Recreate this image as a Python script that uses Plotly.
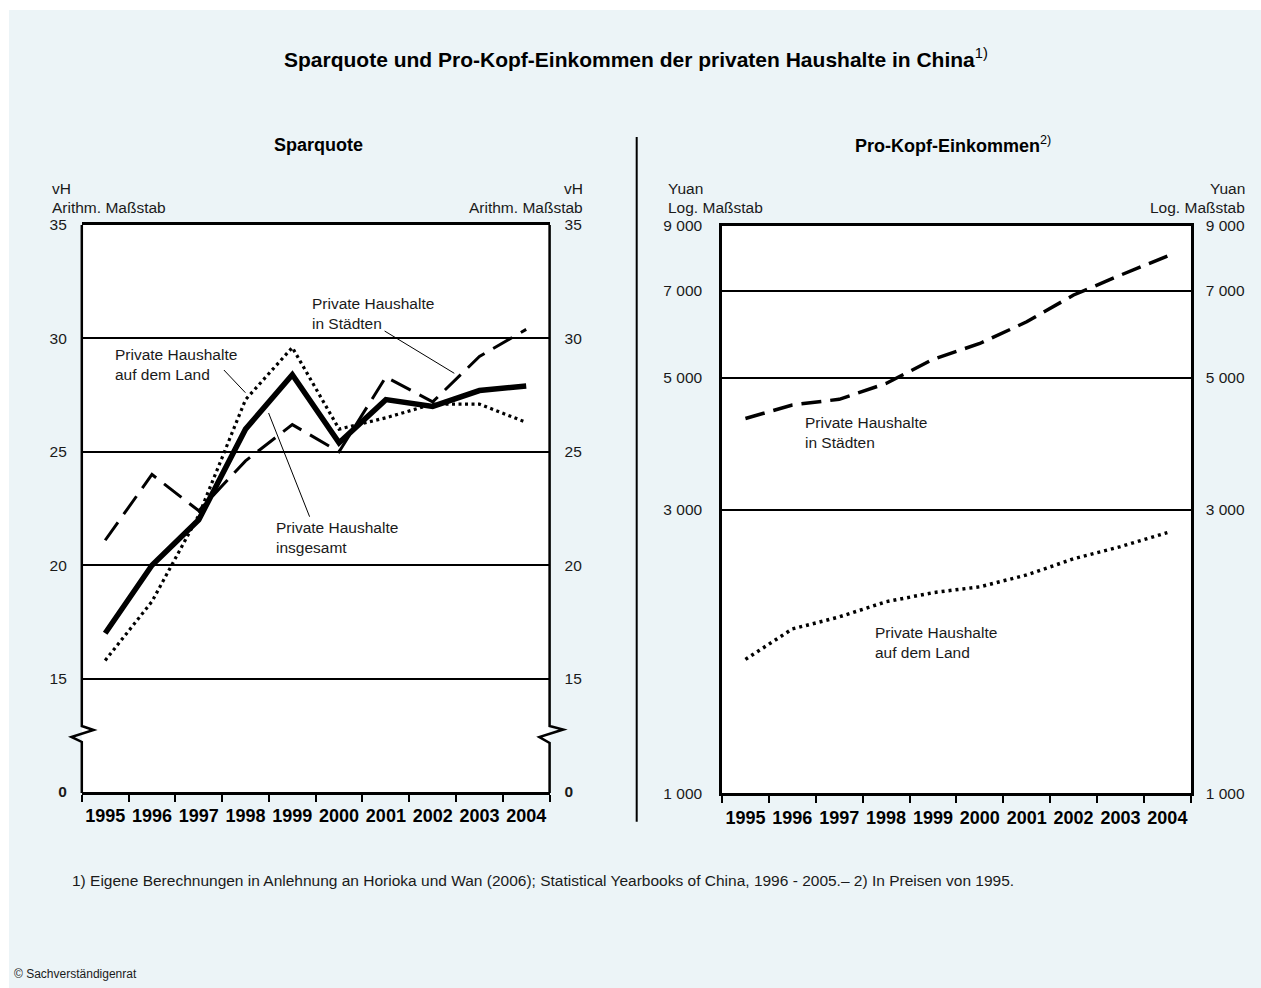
import plotly.graph_objects as go

W, H = 1261, 988

# ---------------- data ----------------
years = ["1995", "1996", "1997", "1998", "1999", "2000", "2001", "2002", "2003", "2004"]

# Sparquote (vH)
sq_total = [17.0, 20.0, 22.0, 26.0, 28.4, 25.4, 27.3, 27.0, 27.7, 27.9]
sq_urban = [21.1, 24.0, 22.4, 24.6, 26.2, 25.0, 28.3, 27.2, 29.2, 30.4]
sq_rural = [15.8, 18.4, 22.2, 27.3, 29.6, 26.0, 26.5, 27.1, 27.1, 26.3]

# Pro-Kopf-Einkommen (Yuan, in Preisen von 1995)
inc_urban = [4270, 4500, 4600, 4890, 5370, 5710, 6210, 6890, 7440, 8010]
inc_rural = [1680, 1890, 1980, 2100, 2175, 2225, 2330, 2480, 2600, 2745]

# axis ticks
sq_tickvals = [10, 15, 20, 25, 30, 35]          # 10 = position of the broken "0"
sq_ticktext = ["<b>0</b>", "15", "20", "25", "30", "35"]
inc_tickvals = [1000, 3000, 5000, 7000, 9000]
inc_ticktext = ["1 000", "3 000", "5 000", "7 000", "9 000"]

FONT = "Liberation Sans, Arial, Helvetica, sans-serif"
TXT = "#1a1a1a"


def px(x):
    return x / W


def py(y):
    return 1 - y / H


fig = go.Figure()

# ---- left panel traces ----
fig.add_trace(go.Scatter(x=years, y=sq_urban, mode="lines", xaxis="x", yaxis="y",
                         line=dict(color="black", width=3, dash="22px,10px"), hoverinfo="skip"))
fig.add_trace(go.Scatter(x=years, y=sq_rural, mode="lines", xaxis="x", yaxis="y",
                         line=dict(color="black", width=3.2, dash="3px,3.5px"), hoverinfo="skip"))
fig.add_trace(go.Scatter(x=years, y=sq_total, mode="lines", xaxis="x", yaxis="y",
                         line=dict(color="black", width=5.5), hoverinfo="skip"))
# invisible trace for right-side tick axis
fig.add_trace(go.Scatter(x=years, y=sq_total, mode="lines", xaxis="x", yaxis="y3",
                         line=dict(color="rgba(0,0,0,0)", width=0), hoverinfo="skip"))

# ---- right panel traces ----
fig.add_trace(go.Scatter(x=years, y=inc_urban, mode="lines", xaxis="x2", yaxis="y2",
                         line=dict(color="black", width=3.5, dash="20px,9px"), hoverinfo="skip"))
fig.add_trace(go.Scatter(x=years, y=inc_rural, mode="lines", xaxis="x2", yaxis="y2",
                         line=dict(color="black", width=3.5, dash="3px,4px"), hoverinfo="skip"))
fig.add_trace(go.Scatter(x=years, y=inc_rural, mode="lines", xaxis="x2", yaxis="y4",
                         line=dict(color="rgba(0,0,0,0)", width=0), hoverinfo="skip"))

xdom_l = [px(81.8), px(549.6)]
ydom_l = [py(792), py(225)]
xdom_r = [px(722), px(1190.8)]
ydom_r = [py(793.3), py(226)]

tickfont = dict(family=FONT, size=15.5, color=TXT)
xtickfont = dict(family=FONT, size=18, color="black")

xcommon = dict(type="category", tickson="boundaries", ticks="outside", ticklen=7,
               tickwidth=1.5, tickcolor="black", showline=True, mirror=True,
               linecolor="black", linewidth=2.5, showgrid=False, zeroline=False,
               tickangle=0, automargin=False, ticklabelstandoff=6,
               tickfont=xtickfont, tickprefix="<b>", ticksuffix="</b>", fixedrange=True)

fig.update_layout(
    width=W, height=H,
    margin=dict(l=0, r=0, t=0, b=0, pad=0),
    paper_bgcolor="#ecf4f7",
    plot_bgcolor="white",
    showlegend=False,
    font=dict(family=FONT, color=TXT),
    xaxis=dict(domain=xdom_l, anchor="y", range=[-0.5, 9.5], **xcommon),
    yaxis=dict(domain=ydom_l, anchor="x", range=[10, 35], tickvals=sq_tickvals,
               ticktext=sq_ticktext, ticks="", ticklabelstandoff=14, showline=False,
               showgrid=True, gridcolor="black", gridwidth=1.5, zeroline=False,
               tickfont=tickfont, fixedrange=True, automargin=False),
    yaxis3=dict(overlaying="y", side="right", anchor="x", range=[10, 35],
                tickvals=sq_tickvals, ticktext=sq_ticktext, ticks="", ticklabelstandoff=14,
                showline=False, showgrid=False, zeroline=False, tickfont=tickfont,
                fixedrange=True, automargin=False),
    xaxis2=dict(domain=xdom_r, anchor="y2", range=[-0.5, 9.5], **xcommon),
    yaxis2=dict(domain=ydom_r, anchor="x2", type="log", range=[3, 3.954243],
                tickvals=inc_tickvals, ticktext=inc_ticktext, ticks="", ticklabelstandoff=14,
                showline=True, mirror=True, linecolor="black", linewidth=2.5,
                showgrid=True, gridcolor="black", gridwidth=1.5, zeroline=False,
                tickfont=tickfont, fixedrange=True, automargin=False),
    yaxis4=dict(overlaying="y2", side="right", anchor="x2", type="log",
                range=[3, 3.954243], tickvals=inc_tickvals, ticktext=inc_ticktext,
                ticks="", ticklabelstandoff=14, showline=False, showgrid=False,
                zeroline=False, tickfont=tickfont, fixedrange=True, automargin=False),
)

shapes = []
# white outer strips (top and left)
shapes.append(dict(type="rect", xref="paper", yref="paper", x0=0, x1=1, y0=py(10), y1=1,
                   fillcolor="white", line=dict(width=0), layer="above"))
shapes.append(dict(type="rect", xref="paper", yref="paper", x0=0, x1=px(9), y0=0, y1=1,
                   fillcolor="white", line=dict(width=0), layer="above"))
# divider
shapes.append(dict(type="line", xref="paper", yref="paper", x0=px(636.7), x1=px(636.7),
                   y0=py(137), y1=py(821.7), line=dict(color="black", width=2)))


def path(points):
    return "M " + " L ".join(f"{px(a):.5f},{py(b):.5f}" for a, b in points)


# left panel side frame with axis break
shapes.append(dict(type="path", xref="paper", yref="paper",
                   path=path([(81.8, 225), (81.8, 726), (93.6, 730), (71.4, 737), (81.8, 742), (81.8, 793)]),
                   line=dict(color="black", width=2.5)))
shapes.append(dict(type="path", xref="paper", yref="paper",
                   path=path([(549.6, 225), (549.6, 726), (563.2, 729.5), (539.3, 737), (549.6, 743), (549.6, 793)]),
                   line=dict(color="black", width=2.5)))

# leader lines
for (a, b, c, d) in [(384.6, 331, 454.3, 373.3), (223.9, 370, 245.4, 392.7), (268.6, 413, 309.6, 516.7)]:
    shapes.append(dict(type="line", xref="paper", yref="paper", x0=px(a), y0=py(b), x1=px(c), y1=py(d),
                       line=dict(color="black", width=1)))

fig.update_layout(shapes=shapes)

ann = []


def text(x, y, s, size=15.5, xanchor="left", yanchor="middle", align="left"):
    ann.append(dict(x=px(x), y=py(y), xref="paper", yref="paper", text=s, showarrow=False,
                    xanchor=xanchor, yanchor=yanchor, align=align,
                    font=dict(family=FONT, size=size, color=TXT)))


# title
ann.append(dict(x=px(636), y=py(58), xref="paper", yref="paper", showarrow=False,
                text="<b>Sparquote und Pro-Kopf-Einkommen der privaten Haushalte in China</b><sup>1)</sup>",
                xanchor="center", yanchor="middle",
                font=dict(family=FONT, size=21, color="black")))
# subtitles
ann.append(dict(x=px(318), y=py(145), xref="paper", yref="paper", showarrow=False,
                text="<b>Sparquote</b>", xanchor="center", yanchor="middle",
                font=dict(family=FONT, size=18, color="black")))
ann.append(dict(x=px(953), y=py(145), xref="paper", yref="paper", showarrow=False,
                text="<b>Pro-Kopf-Einkommen</b><sup>2)</sup>", xanchor="center", yanchor="middle",
                font=dict(family=FONT, size=18, color="black")))

# axis unit labels
text(49.6, 188, "vH")
text(49.6, 207, "Arithm. Maßstab")
text(585, 188, "vH", xanchor="right", align="right")
text(585, 207, "Arithm. Maßstab", xanchor="right", align="right")
text(666, 188, "Yuan")
text(666, 207, "Log. Maßstab")
text(1247, 188, "Yuan", xanchor="right", align="right")
text(1247, 207, "Log. Maßstab", xanchor="right", align="right")

# series labels
text(310.4, 313, "Private Haushalte<br>in Städten")
text(113.2, 364, "Private Haushalte<br>auf dem Land")
text(273.9, 537, "Private Haushalte<br>insgesamt")
text(803, 432, "Private Haushalte<br>in Städten")
text(872.7, 642.5, "Private Haushalte<br>auf dem Land")

# footnote & copyright
text(70, 880, "1) Eigene Berechnungen in Anlehnung an Horioka und Wan (2006); Statistical Yearbooks of China, 1996 - 2005.– 2) In Preisen von 1995.", size=15.5)
text(12, 974, "© Sachverständigenrat", size=12)

fig.update_layout(annotations=ann)

fig.write_html("out.html", config={"displayModeBar": False},
               post_script="document.body.style.margin='0';document.body.style.padding='0';"
                           "document.body.style.overflow='hidden';"
                           "document.documentElement.style.overflow='hidden';")
